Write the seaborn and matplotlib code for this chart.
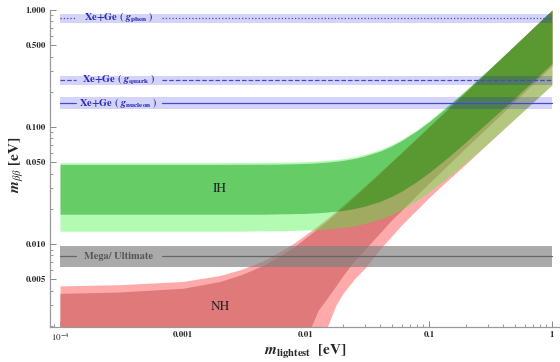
import numpy as np
import pandas as pd
import matplotlib
matplotlib.use("Agg")
import matplotlib.pyplot as plt
from matplotlib.ticker import LogLocator, NullFormatter
import seaborn as sns

# lightest neutrino mass grid [eV]
m_light = [1e-4, 3e-4, 1e-3, 2e-3, 3e-3, 4.5e-3, 6e-3, 8e-3, 0.01, 0.0111, 0.0125,
           0.015, 0.0175, 0.02, 0.025, 0.03, 0.04, 0.05, 0.06, 0.08, 0.1, 0.15,
           0.2, 0.3, 0.5, 0.7, 1.0]

# normal hierarchy: best fit (red) and 3 sigma (pink) edges
nh_hi = [0.0038, 0.0039, 0.0042, 0.0048, 0.0055, 0.0066, 0.0078, 0.0095, 0.0114, 0.0124,
         0.0137, 0.0160, 0.0184, 0.0208, 0.0257, 0.0306, 0.0405, 0.0505, 0.0604, 0.0803,
         0.1003, 0.150, 0.200, 0.300, 0.50, 0.70, 1.0]
nh_lo = [0.0015, 0.0015, 0.0015, 0.0015, 0.0015, 0.0015, 0.0015, 0.0015, 0.0016, 0.0020,
         0.0027, 0.0035, 0.0044, 0.0054, 0.0073, 0.0090, 0.0125, 0.0162, 0.0195, 0.0264,
         0.0332, 0.050, 0.067, 0.100, 0.167, 0.234, 0.334]
nh3_hi = [0.0044, 0.0045, 0.0048, 0.0054, 0.0061, 0.0072, 0.0085, 0.0102, 0.0121, 0.0131,
          0.0144, 0.0167, 0.0191, 0.0215, 0.0264, 0.0313, 0.0412, 0.0511, 0.061, 0.081,
          0.101, 0.151, 0.201, 0.301, 0.501, 0.701, 1.0]
nh3_lo = [0.0015, 0.0015, 0.0015, 0.0015, 0.0015, 0.0015, 0.0015, 0.0015, 0.0015, 0.0015,
          0.0015, 0.0020, 0.0030, 0.0038, 0.0051, 0.0062, 0.0091, 0.0118, 0.0146, 0.0198,
          0.0250, 0.0370, 0.0485, 0.0720, 0.118, 0.163, 0.230]

# inverted hierarchy: best fit (green) and 3 sigma (light green) edges
ih_hi = [0.048, 0.048, 0.048, 0.048, 0.0481, 0.0482, 0.0483, 0.0486, 0.0490, 0.0492,
         0.0496, 0.0503, 0.0511, 0.052, 0.0541, 0.0567, 0.0624, 0.0693, 0.0768, 0.0933,
         0.111, 0.158, 0.206, 0.304, 0.502, 0.702, 1.0]
ih_lo = [0.018, 0.018, 0.018, 0.018, 0.018, 0.018, 0.0181, 0.0182, 0.0183, 0.0184,
         0.0185, 0.0188, 0.0191, 0.0194, 0.0202, 0.0211, 0.0232, 0.0257, 0.0284, 0.0344,
         0.0408, 0.0577, 0.075, 0.110, 0.178, 0.247, 0.35]
ih3_hi = [0.0497, 0.0497, 0.0497, 0.0497, 0.0498, 0.0499, 0.050, 0.0503, 0.0507, 0.0509,
          0.0513, 0.052, 0.0528, 0.0537, 0.0558, 0.0584, 0.0641, 0.071, 0.0785, 0.095,
          0.113, 0.160, 0.208, 0.306, 0.504, 0.703, 1.0]
ih3_lo = [0.0129, 0.0129, 0.0129, 0.0129, 0.0129, 0.013, 0.013, 0.0131, 0.0132, 0.0132,
          0.0133, 0.0135, 0.0137, 0.0139, 0.0144, 0.015, 0.0164, 0.018, 0.0198, 0.0237,
          0.028, 0.039, 0.050, 0.0725, 0.118, 0.163, 0.23]

# experimental sensitivity bands: (low, line, high)
band_names = ['phen', 'quark', 'nucleon']
band_lo = [0.78, 0.229, 0.143]
band_mid = [0.85, 0.251, 0.160]
band_hi = [0.93, 0.273, 0.180]
band_ls = [':', '--', '-']
mega_lo, mega_mid, mega_hi = 0.0064, 0.0079, 0.0096
band_x = [1e-4, 1.0]
label_x = 3.0e-4
label_gap = (1.36e-4, 6.7e-4)   # where the line is broken for the label

xticks = [1e-4, 1e-3, 1e-2, 1e-1, 1.0]
xticklabels = [r'$10^{-4}$', '0.001', '0.01', '0.1', '1']
yticks = [0.005, 0.01, 0.05, 0.1, 0.5, 1.0]
yticklabels = ['0.005', '0.010', '0.050', '0.100', '0.500', '1.000']

df = pd.DataFrame({'m': m_light, 'nh_hi': nh_hi, 'nh_lo': nh_lo, 'nh3_hi': nh3_hi,
                   'nh3_lo': nh3_lo, 'ih_hi': ih_hi, 'ih_lo': ih_lo,
                   'ih3_hi': ih3_hi, 'ih3_lo': ih3_lo})

sns.set_style('ticks')
plt.rcParams['font.family'] = ['STIXGeneral', 'DejaVu Serif']
plt.rcParams['mathtext.fontset'] = 'stix'

fig = plt.figure(figsize=(5.6, 3.62), dpi=100)
ax = fig.add_axes([50 / 560, 1 - 327 / 362, 1 - 50 / 560, 317 / 362])


def broken_line(y, color, ls='-'):
    # horizontal line with a gap for the label
    sns.lineplot(x=[band_x[0], label_gap[0]], y=[y, y], color=color, lw=0.9, ls=ls, ax=ax)
    sns.lineplot(x=[label_gap[1], band_x[1]], y=[y, y], color=color, lw=0.9, ls=ls, ax=ax)


# NH bands (opaque)
ax.fill_between(df['m'], df['nh3_lo'], df['nh3_hi'], color='#ffaaaa', lw=0)
ax.fill_between(df['m'], df['nh_lo'], df['nh_hi'], color='#e07a7a', lw=0)

# Mega / Ultimate band
ax.fill_between(band_x, mega_lo, mega_hi, color=(0.5, 0.5, 0.5), alpha=0.67, lw=0)
broken_line(mega_mid, '#666666')

# IH bands (transparent)
light_g = (60 / 255, 246 / 255, 59 / 255)
ax.fill_between(df['m'], df['ih3_lo'], df['ih_lo'], color=light_g, alpha=0.39, lw=0)
ax.fill_between(df['m'], df['ih_hi'], df['ih3_hi'], color=light_g, alpha=0.39, lw=0)
ax.fill_between(df['m'], df['ih_lo'], df['ih_hi'], color=(5 / 255, 172 / 255, 5 / 255),
                alpha=0.61, lw=0)

# Xe+Ge bands
for name, lo, mid, hi, ls in zip(band_names, band_lo, band_mid, band_hi, band_ls):
    ax.fill_between(band_x, lo, hi, color=(0, 0, 0.9), alpha=0.17, lw=0)
    broken_line(mid, '#4848c8', ls)
    ax.text(label_x, mid, r'Xe+Ge ( $\mathbfit{g}_{\mathbf{%s}}$ )' % name,
            ha='center', va='center', color='#2a2ab4', fontsize=7.5, fontweight='bold')

ax.text(label_x, mega_mid, 'Mega/ Ultimate', ha='center', va='center', color='#555555',
        fontsize=7.5, fontweight='bold')
ax.text(0.002, 0.0295, 'IH', ha='center', va='center', fontsize=9.5, color='#222222')
ax.text(0.002, 0.0029, 'NH', ha='center', va='center', fontsize=9.5, color='#222222')

ax.set_xscale('log')
ax.set_yscale('log')
ax.set_xlim(10 ** -4.081, 10 ** 0.065)
ax.set_ylim(0.00196, 1.0)
ax.set_xticks(xticks, xticklabels)
ax.set_yticks(yticks, yticklabels)
ax.xaxis.set_minor_locator(LogLocator(base=10, subs=np.arange(2, 10)))
ax.yaxis.set_minor_locator(LogLocator(base=10, subs=np.arange(2, 10)))
ax.xaxis.set_minor_formatter(NullFormatter())
ax.yaxis.set_minor_formatter(NullFormatter())
ax.tick_params(which='major', direction='in', length=4, width=0.7, color='#888888',
               labelsize=6.5, pad=3)
ax.tick_params(which='minor', direction='in', length=2, width=0.6, color='#888888')
for lab in ax.get_xticklabels() + ax.get_yticklabels():
    lab.set_fontweight('bold')
for side in ['top', 'right']:
    ax.spines[side].set_visible(False)
for side in ['left', 'bottom']:
    ax.spines[side].set_color('#999999')
    ax.spines[side].set_linewidth(0.9)
ax.set_xlabel('')
ax.set_ylabel('')

fig.text(17 / 560, 1 - 165 / 362, r'$\mathbfit{m}_{\beta\beta}$ [eV]', rotation=90,
         ha='center', va='center', fontsize=11, fontweight='bold')
fig.text(305 / 560, 1 - 352 / 362, r'$\mathbfit{m}_{\mathbf{lightest}}$  [eV]',
         ha='center', va='center', fontsize=11, fontweight='bold')

fig.savefig('out.png', dpi=100)
